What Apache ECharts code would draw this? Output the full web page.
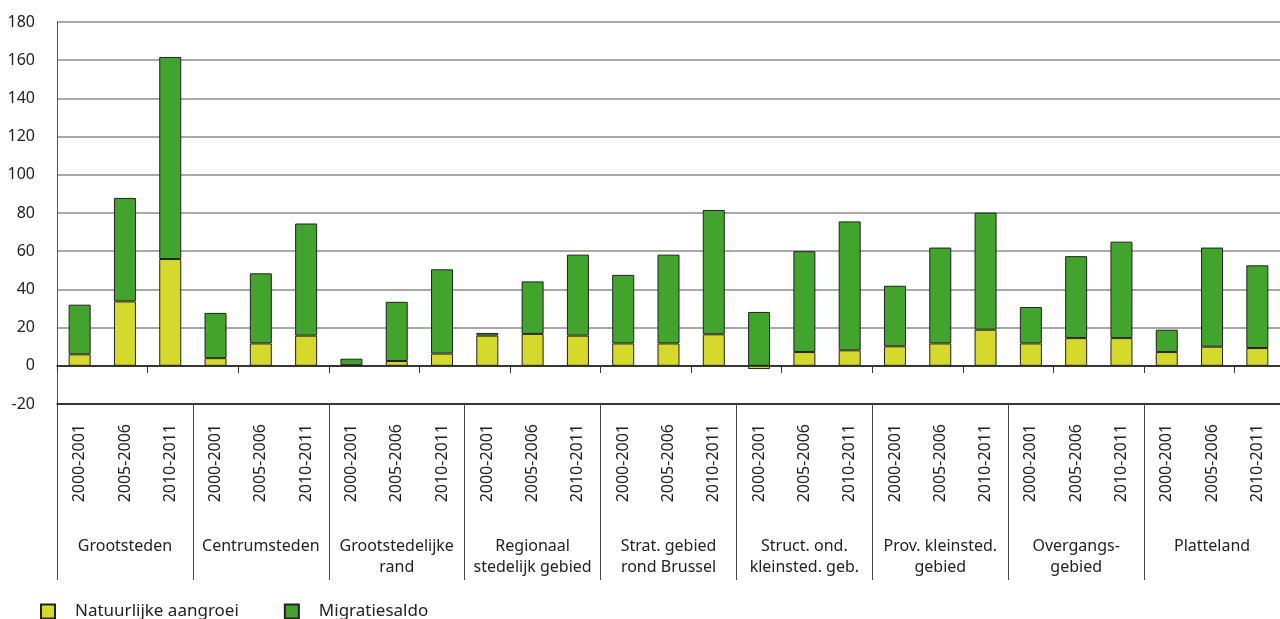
<!DOCTYPE html>
<html>
<head>
<meta charset="utf-8">
<script src="https://cdn.jsdelivr.net/npm/echarts@6/dist/echarts.min.js"></script>
<style>
  html, body { margin: 0; padding: 0; background: #fff; }
  #container { width: 1280px; height: 619px; }
</style>
</head>
<body>
<div id="container"></div>
<script>
// regio's en periodes
var groups = ['Grootsteden', 'Centrumsteden', 'Grootstedelijke\nrand', 'Regionaal\nstedelijk gebied',
  'Strat. gebied\nrond Brussel', 'Struct. ond.\nkleinsted. geb.', 'Prov. kleinsted.\ngebied',
  'Overgangs-\ngebied', 'Platteland'];
var periods = ['2000-2001', '2005-2006', '2010-2011'];

// waarden per regio, drie periodes na elkaar
var natuurlijk = [6, 33.7, 55.9, 4, 11.7, 15.8, 0.3, 2.5, 6.4, 15.8, 16.7, 15.8, 11.7, 11.7, 16.5,
  -1.7, 7.2, 8.1, 10.2, 11.7, 18.9, 11.7, 14.5, 14.5, 7.2, 10, 9.3];
var migratie = [26, 54.2, 105.8, 23.7, 36.7, 58.7, 3.4, 31, 44.1, 1.4, 27.5, 42.4, 35.9, 46.5, 65.1,
  28.2, 52.8, 67.5, 31.7, 50.2, 61.3, 19.1, 42.9, 50.5, 11.7, 51.9, 43.3];

var yTicks = { min: -20, max: 180, interval: 20 };

var cats = [];
for (var g = 0; g < groups.length; g++) {
  for (var p = 0; p < periods.length; p++) {
    cats.push(periods[p]);
  }
}

var font = 'Noto Sans';
var option = {
  animation: false,
  textStyle: { fontFamily: font },
  grid: { left: 57, right: 0, top: 22, bottom: 215 },
  legend: {
    left: 40, top: 603, padding: 0,
    icon: 'rect', itemWidth: 14, itemHeight: 14, itemGap: 45,
    textStyle: { fontSize: 17, color: '#222', padding: [0, 0, 0, 15], fontFamily: font },
    data: ['Natuurlijke aangroei', 'Migratiesaldo']
  },
  xAxis: [
    { // nul-lijn met tikjes naar beneden
      type: 'category', data: cats, boundaryGap: true,
      axisLine: { onZero: true, lineStyle: { color: '#111', width: 1.5 } },
      axisTick: { show: true, length: 7, lineStyle: { color: '#333' } },
      axisLabel: { show: false }, splitLine: { show: false }
    },
    { // tikjes naar boven
      type: 'category', data: cats, boundaryGap: true,
      axisLine: { show: false, onZero: true, onZeroAxisIndex: 1 },
      axisTick: { show: true, inside: true, length: 7, lineStyle: { color: '#333' } },
      axisLabel: { show: false }, splitLine: { show: false }
    },
    { // periodes
      type: 'category', data: cats, position: 'bottom', boundaryGap: true,
      axisLine: { onZero: false, lineStyle: { color: '#111', width: 1.5 } },
      axisTick: { show: false },
      axisLabel: { interval: 0, rotate: 90, margin: 20, fontSize: 16, color: '#222', fontFamily: font }
    },
    { // regio's
      type: 'category', data: groups, position: 'bottom', boundaryGap: true,
      axisLine: { show: false, onZero: false },
      axisTick: { show: true, interval: 0, length: 176, lineStyle: { color: '#444' } },
      axisLabel: { interval: 0, margin: 132, fontSize: 16, lineHeight: 21, color: '#222', fontFamily: font }
    }
  ],
  yAxis: [
    {
      type: 'value', min: yTicks.min, max: yTicks.max, interval: yTicks.interval,
      axisLine: { show: true, lineStyle: { color: '#555' } },
      axisTick: { show: false },
      axisLabel: { fontSize: 16, color: '#222', margin: 22, fontFamily: font },
      splitLine: { lineStyle: { color: '#8c8c8c', width: 1.5 } }
    },
    {
      type: 'value', min: yTicks.min, max: yTicks.max, interval: yTicks.interval,
      show: false, splitLine: { show: false }
    }
  ],
  series: [
    {
      name: 'Natuurlijke aangroei', type: 'bar', stack: 'totaal', barWidth: 22,
      xAxisIndex: 0, yAxisIndex: 0, data: natuurlijk,
      itemStyle: { color: '#d5d92b', borderColor: '#222', borderWidth: 1 }
    },
    {
      name: 'Migratiesaldo', type: 'bar', stack: 'totaal', barWidth: 22,
      xAxisIndex: 0, yAxisIndex: 0, data: migratie,
      itemStyle: { color: '#42a32d', borderColor: '#222', borderWidth: 1 }
    }
  ]
};

var myChart = echarts.init(document.getElementById('container'));
myChart.setOption(option);
</script>
</body>
</html>
